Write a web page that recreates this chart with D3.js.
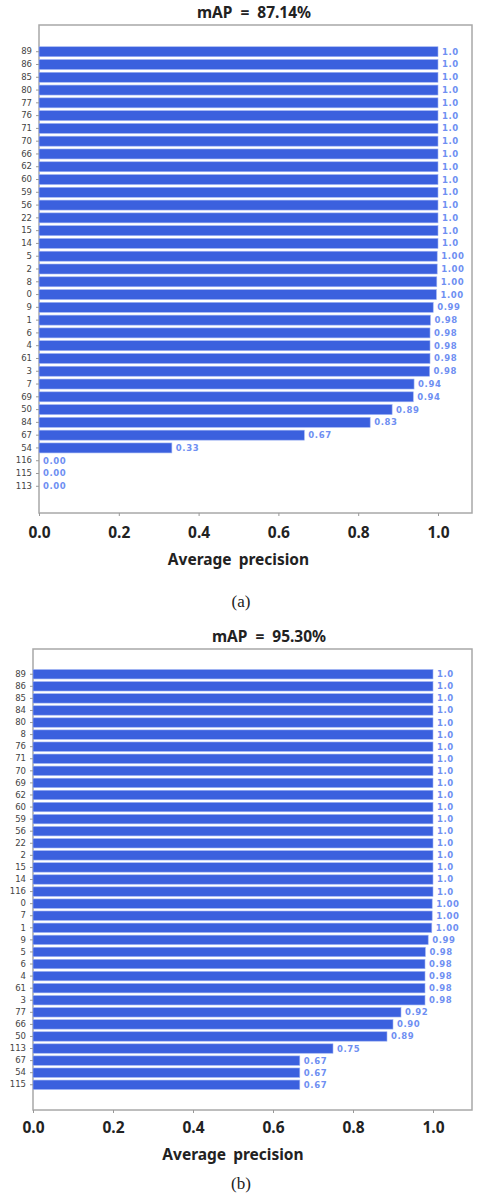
<!DOCTYPE html>
<html>
<head>
<meta charset="utf-8">
<script src="https://cdn.jsdelivr.net/npm/d3@7"></script>
<style>
  body { margin: 0; background: #fff; }
  svg { display: block; }
  .ylab text { font-family: "DejaVu Sans", sans-serif; font-size: 8.5px; fill: #444; }
  .xax text { font-family: "Noto Sans", sans-serif; font-size: 15.5px; font-weight: bold; fill: #222; }
  .val { font-family: "DejaVu Sans", sans-serif; font-size: 8.5px; font-weight: bold; fill: #6f8ff2; }
  .ttl { font-family: "Noto Sans", sans-serif; font-size: 15.5px; font-weight: bold; fill: #222; }
  .cap { font-family: "Liberation Serif", serif; font-size: 17px; fill: #222; }
</style>
</head>
<body>
<div id="chart"></div>
<script>
// panel (a)
var titleA = 'mAP = 87.14%';
var classesA = ['89', '86', '85', '80', '77', '76', '71', '70', '66', '62', '60', '59', '56', '22', '15', '14',
  '5', '2', '8', '0', '9', '1', '6', '4', '61', '3', '7', '69', '50', '84', '67', '54', '116', '115', '113'];
var apA = [1, 1, 1, 1, 1, 1, 1, 1, 1, 1, 1, 1, 1, 1, 1, 1,
  0.998, 0.998, 0.997, 0.996, 0.988, 0.981, 0.98, 0.98, 0.98, 0.979, 0.94, 0.938, 0.885, 0.83, 0.665, 0.333, 0, 0, 0];
var textA = ['1.0', '1.0', '1.0', '1.0', '1.0', '1.0', '1.0', '1.0', '1.0', '1.0', '1.0', '1.0', '1.0', '1.0', '1.0', '1.0',
  '1.00', '1.00', '1.00', '1.00', '0.99', '0.98', '0.98', '0.98', '0.98', '0.98', '0.94', '0.94', '0.89', '0.83', '0.67', '0.33', '0.00', '0.00', '0.00'];

// panel (b)
var titleB = 'mAP = 95.30%';
var classesB = ['89', '86', '85', '84', '80', '8', '76', '71', '70', '69', '62', '60', '59', '56', '22', '2', '15', '14', '116',
  '0', '7', '1', '9', '5', '6', '4', '61', '3', '77', '66', '50', '113', '67', '54', '115'];
var apB = [1, 1, 1, 1, 1, 1, 1, 1, 1, 1, 1, 1, 1, 1, 1, 1, 1, 1, 1,
  0.998, 0.998, 0.997, 0.988, 0.981, 0.98, 0.98, 0.98, 0.98, 0.92, 0.9, 0.885, 0.75, 0.667, 0.667, 0.667];
var textB = ['1.0', '1.0', '1.0', '1.0', '1.0', '1.0', '1.0', '1.0', '1.0', '1.0', '1.0', '1.0', '1.0', '1.0', '1.0', '1.0', '1.0', '1.0', '1.0',
  '1.00', '1.00', '1.00', '0.99', '0.98', '0.98', '0.98', '0.98', '0.98', '0.92', '0.90', '0.89', '0.75', '0.67', '0.67', '0.67'];

var xTicks = [0, 0.2, 0.4, 0.6, 0.8, 1.0];

var svg = d3.select('#chart').append('svg').attr('width', 479).attr('height', 1194);

function panel(cfg, classes, ap, text, title, caption) {
  var g = svg.append('g');
  var x = d3.scaleLinear().domain([0, 1]).range([cfg.left, cfg.one]);
  var y = d3.scaleBand().domain(classes).range([cfg.top, cfg.bottom]).paddingInner(0.22).paddingOuter(1.7);

  // frame
  g.append('rect').attr('x', cfg.left).attr('y', cfg.top)
    .attr('width', cfg.right - cfg.left).attr('height', cfg.bottom - cfg.top)
    .attr('fill', 'none').attr('stroke', '#a8a8a8').attr('stroke-width', 1.5);

  g.selectAll('rect.bar').data(ap).enter().append('rect').attr('class', 'bar')
    .attr('x', x(0))
    .attr('y', function (d, i) { return y(classes[i]); })
    .attr('width', function (d) { return x(d) - x(0); })
    .attr('height', y.bandwidth())
    .attr('fill', '#3b60de')
    .attr('stroke', '#9fb3f3').attr('stroke-width', 0.6);

  g.selectAll('text.val').data(text).enter().append('text').attr('class', 'val')
    .attr('x', function (d, i) { return x(ap[i]) + 4; })
    .attr('y', function (d, i) { return y(classes[i]) + y.bandwidth() / 2; })
    .attr('dy', '0.35em')
    .style('letter-spacing', '0.6px')
    .text(function (d) { return d; });

  var ya = g.append('g').attr('class', 'ylab').attr('transform', 'translate(' + cfg.left + ',0)')
    .call(d3.axisLeft(y).tickSize(3).tickPadding(4));
  ya.select('.domain').remove();
  ya.selectAll('line').attr('stroke', '#999');

  var xa = g.append('g').attr('class', 'xax').attr('transform', 'translate(0,' + cfg.bottom + ')')
    .call(d3.axisBottom(x).tickValues(xTicks).tickFormat(d3.format('.1f')).tickSize(3).tickPadding(cfg.pad));
  xa.select('.domain').remove();
  xa.selectAll('line').attr('stroke', '#999');

  g.append('text').attr('class', 'ttl').attr('x', cfg.titleX).attr('y', cfg.titleY)
    .attr('text-anchor', 'middle').style('word-spacing', '4px').text(title);
  g.append('text').attr('class', 'ttl').attr('x', (x(0) + x(1)) / 2).attr('y', cfg.labelY)
    .attr('text-anchor', 'middle').style('word-spacing', '3px').text('Average precision');
  g.append('text').attr('class', 'cap').attr('x', 241).attr('y', cfg.capY)
    .attr('text-anchor', 'middle').text(caption);
}

panel({ left: 39, right: 472, one: 438, top: 25, bottom: 513, pad: 11, titleX: 254, titleY: 18, labelY: 565, capY: 607 },
  classesA, apA, textA, titleA, '(a)');
panel({ left: 33, right: 472, one: 433, top: 649, bottom: 1110, pad: 9, titleX: 269, titleY: 642, labelY: 1160, capY: 1189 },
  classesB, apB, textB, titleB, '(b)');
</script>
</body>
</html>
